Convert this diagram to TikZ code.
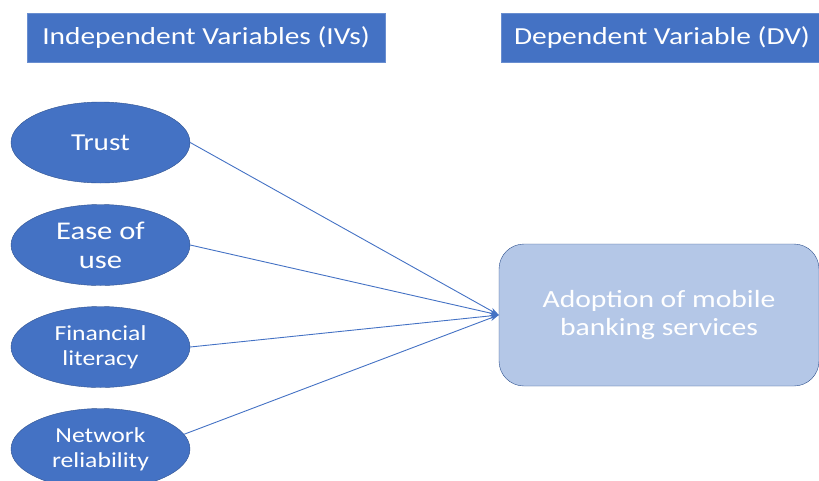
\documentclass[tikz,border=0pt]{standalone}
\usepackage{fontspec}
\setmainfont{Carlito}[FakeStretch=1.2]
\usetikzlibrary{shapes.geometric,arrows.meta}
\definecolor{cblue}{HTML}{4472C4}
\definecolor{cborder}{HTML}{2F528F}
\definecolor{clight}{HTML}{B4C7E7}
\tikzset{
  header/.style={draw=cblue!80!white, fill=cblue, text=white, minimum height=49pt, inner sep=0pt, font=\fontsize{24.5}{28}\selectfont},
  ivnode/.style={ellipse, draw=cborder, fill=cblue, text=white, minimum width=179pt, minimum height=81pt, inner sep=0pt, align=center},
  dvbox/.style={draw=cborder, fill=clight, text=white, rounded corners=25pt, minimum width=320pt, minimum height=142pt, align=center, font=\fontsize{24.7}{28.4}\selectfont},
  link/.style={draw=cblue, line width=0.9pt, -{Stealth[length=9pt,width=6pt]}}
}
\begin{document}
\begin{tikzpicture}[x=1pt,y=1pt]
\useasboundingbox (0,0) rectangle (819,-480);
\node[header, minimum width=358pt] (ivh) at (206,-37.5) {Independent Variables (IVs)};
\node[header, minimum width=322pt] (dvh) at (662,-37.5) {Dependent Variable (DV)};
\node[ivnode, font=\fontsize{24.3}{29}\selectfont] (trust) at (100.5,-142.5) {Trust};
\node[ivnode, font=\fontsize{25.5}{29}\selectfont] (ease) at (100.5,-245) {Ease of\\use};
\node[ivnode, font=\fontsize{21.4}{25.3}\selectfont] (fin) at (100.5,-347) {Financial\\literacy};
\node[ivnode, font=\fontsize{21.4}{25.3}\selectfont] (net) at (100.5,-449) {Network\\reliability};
\node[dvbox] (dv) at (659,-315) {Adoption of mobile\\banking services};
\coordinate (tgt) at (dv.west);
\draw[link] (trust.east) -- (tgt);
\draw[link] (ease.east) -- (tgt);
\draw[link] (fin.east) -- (tgt);
\draw[link] (net.10) -- (tgt);
\end{tikzpicture}
\end{document}
